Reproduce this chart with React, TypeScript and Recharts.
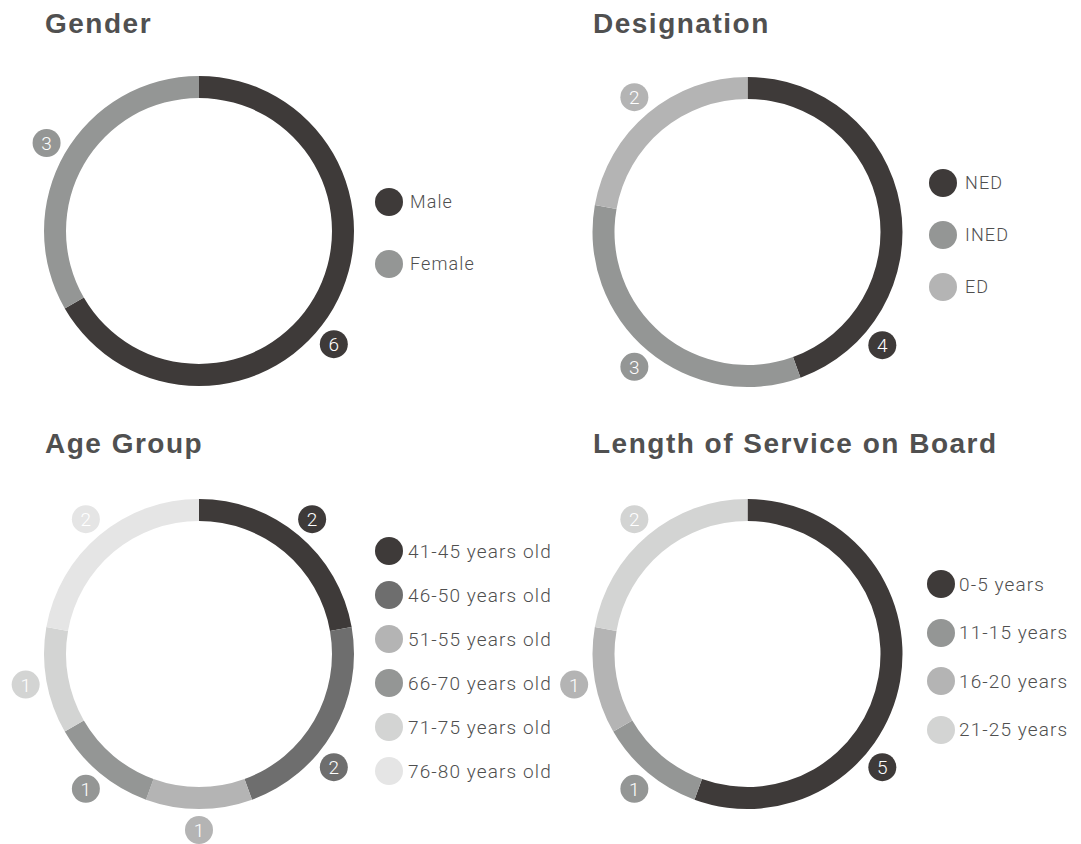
import React from 'react';
import { PieChart, Pie, Cell, Legend } from 'recharts';

// ---- data ----
const genderNames = ['Male', 'Female'];
const genderValues = [6, 3];

const designationNames = ['NED', 'INED', 'ED'];
const designationValues = [4, 3, 2];

const ageNames = ['41-45 years old', '46-50 years old', '51-55 years old', '66-70 years old', '71-75 years old', '76-80 years old'];
const ageValues = [2, 2, 1, 1, 1, 2];

const serviceNames = ['0-5 years', '11-15 years', '16-20 years', '21-25 years'];
const serviceValues = [5, 1, 1, 2];

// ---- styles ----
const DARK = '#3e3a39';
const MID = '#6e6e6e';
const GRAY = '#949695';
const LIGHT = '#b4b4b4';
const LIGHTER = '#d3d4d3';
const LIGHTEST = '#e5e5e5';

const genderColors = [DARK, GRAY];
const designationColors = [DARK, GRAY, LIGHT];
const ageColors = [DARK, MID, LIGHT, GRAY, LIGHTER, LIGHTEST];
const serviceColors = [DARK, GRAY, LIGHT, LIGHTER];

const TEXT = '#4f4f4f';
const TITLE = '#505050';
const RAD = Math.PI / 180;

type PanelProps = {
  title: string;
  names: string[];
  values: number[];
  colors: string[];
  left: number;
  top: number;
  width: number;
  height: number;
  cx: number;
  cy: number;
  titleTop: number;
  legendLeft: number;
  legendTop: number;
  rowH: number;
  textGap: number;
  fontSize: number;
};

function Panel(p: PanelProps) {
  const data = p.names.map((n, i) => ({ name: n, value: p.values[i] }));

  const renderLabel = (props: any) => {
    const { cx, cy, midAngle, index } = props;
    // clockwise angle from 12 o'clock
    let a = ((90 - midAngle) % 360 + 360) % 360;
    // keep labels out of the legend side
    if (a > 60 && a < 125) a = 130;
    const r = 176;
    const x = cx + r * Math.sin(a * RAD);
    const y = cy - r * Math.cos(a * RAD);
    return (
      <g key={`lbl-${index}`}>
        <circle cx={x} cy={y} r={14} fill={p.colors[index]} />
        <text
          x={x}
          y={y + 7}
          fill="#ffffff"
          textAnchor="middle"
          fontFamily="Roboto, sans-serif"
          fontWeight={300}
          fontSize={19}
        >
          {p.values[index]}
        </text>
      </g>
    );
  };

  const renderLegend = () => (
    <div>
      {p.names.map((n, i) => (
        <div key={n} style={{ display: 'flex', alignItems: 'center', height: p.rowH }}>
          <span
            style={{
              display: 'inline-block',
              width: 28,
              height: 28,
              borderRadius: 14,
              background: p.colors[i],
              marginRight: p.textGap,
              flex: 'none',
            }}
          />
          <span
            style={{
              fontFamily: 'Roboto, sans-serif',
              fontWeight: 300,
              fontSize: p.fontSize,
              letterSpacing: 1.1,
              color: TEXT,
              whiteSpace: 'nowrap',
              lineHeight: 1,
            }}
          >
            {n}
          </span>
        </div>
      ))}
    </div>
  );

  return (
    <div style={{ position: 'absolute', left: p.left, top: p.top, width: p.width, height: p.height }}>
      <div
        style={{
          position: 'absolute',
          left: 45,
          top: p.titleTop,
          fontFamily: '"Liberation Sans", Arial, sans-serif',
          fontWeight: 700,
          fontSize: 28,
          letterSpacing: 1.5,
          color: TITLE,
          whiteSpace: 'nowrap',
          lineHeight: 1,
        }}
      >
        {p.title}
      </div>
      <PieChart width={p.width} height={p.height} margin={{ top: 0, right: 0, bottom: 0, left: 0 }}>
        <Pie
          data={data}
          dataKey="value"
          nameKey="name"
          cx={p.cx}
          cy={p.cy}
          innerRadius={133}
          outerRadius={155}
          startAngle={90}
          endAngle={-270}
          stroke="none"
          isAnimationActive={false}
          label={renderLabel}
          labelLine={false}
        >
          {data.map((_, i) => (
            <Cell key={i} fill={p.colors[i]} />
          ))}
        </Pie>
        <Legend
          layout="vertical"
          align="right"
          verticalAlign="middle"
          content={renderLegend}
          wrapperStyle={{ left: p.legendLeft, top: p.legendTop, right: 'auto', bottom: 'auto', width: 200 }}
        />
      </PieChart>
    </div>
  );
}

export default function App() {
  return (
    <div style={{ position: 'absolute', left: 0, top: 0, width: 1081, height: 844, background: '#ffffff', overflow: 'hidden' }}>
      <Panel
        title="Gender"
        names={genderNames}
        values={genderValues}
        colors={genderColors}
        left={0}
        top={0}
        width={540}
        height={420}
        cx={199}
        cy={231}
        titleTop={10}
        legendLeft={375}
        legendTop={171}
        rowH={62}
        textGap={7}
        fontSize={18}
      />
      <Panel
        title="Designation"
        names={designationNames}
        values={designationValues}
        colors={designationColors}
        left={548}
        top={0}
        width={533}
        height={420}
        cx={199.5}
        cy={232}
        titleTop={10}
        legendLeft={381}
        legendTop={157}
        rowH={52}
        textGap={8}
        fontSize={18}
      />
      <Panel
        title="Age Group"
        names={ageNames}
        values={ageValues}
        colors={ageColors}
        left={0}
        top={420}
        width={540}
        height={424}
        cx={199}
        cy={234}
        titleTop={10}
        legendLeft={375}
        legendTop={109}
        rowH={44}
        textGap={5}
        fontSize={19}
      />
      <Panel
        title="Length of Service on Board"
        names={serviceNames}
        values={serviceValues}
        colors={serviceColors}
        left={548}
        top={420}
        width={533}
        height={424}
        cx={199.5}
        cy={234}
        titleTop={10}
        legendLeft={379}
        legendTop={140}
        rowH={48.5}
        textGap={4}
        fontSize={19}
      />
    </div>
  );
}
